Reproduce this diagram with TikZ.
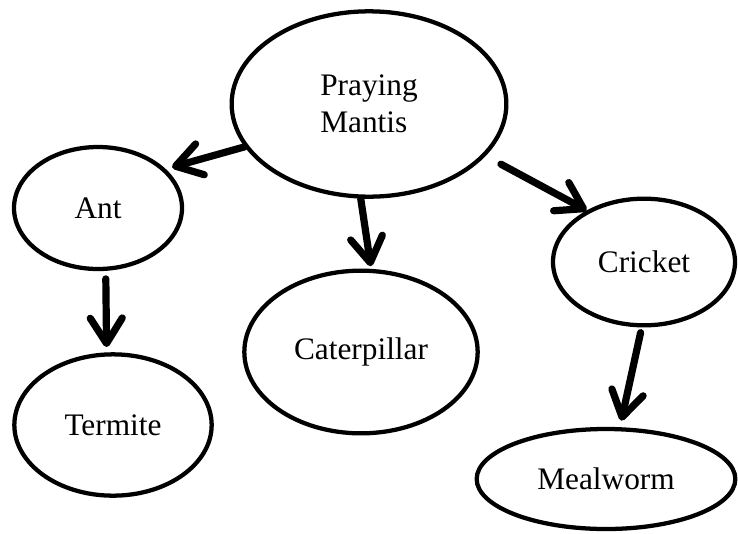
\documentclass[tikz,border=0pt]{standalone}
\usepackage{fontspec}
\setmainfont{Liberation Serif}
\usepackage{tikz}
\usetikzlibrary{arrows.meta, shapes.geometric}
\tikzset{
  fbox/.style={ellipse, draw=black, line width=3.2pt, fill=white, inner sep=0pt, align=left,
    font=\fontsize{23.5}{27.75}\selectfont},
  fflow/.style={-{Straight Barb[length=19pt, width=24pt, round]}, line width=5.4pt, line cap=round, black},
}

\begin{document}
\begin{tikzpicture}[x=0.75pt, y=-0.75pt]
    \useasboundingbox (0,0) rectangle (738,533);
    \node[fbox, minimum width=206pt, minimum height=139pt] (mantis) at (369,104) {Praying\\Mantis};
    \node[fbox, minimum width=126pt, minimum height=91.5pt] (ant) at (98,208) {Ant};
    \node[fbox, minimum width=175pt, minimum height=122pt] (caterpillar) at (361,352) {Caterpillar};
    \node[fbox, minimum width=136.5pt, minimum height=95pt] (cricket) at (644,262) {Cricket};
    \node[fbox, minimum width=148pt, minimum height=106pt] (termite) at (113,425) {Termite};
    \node[fbox, minimum width=194pt, minimum height=75pt] (mealworm) at (606,479) {Mealworm};
    \draw[fflow, shorten >=5pt] (mantis.199) -- (ant.30);
    \draw[fflow, shorten >=2pt] (mantis.265) -- (caterpillar.83);
    \draw[fflow, shorten <=13pt] (mantis.336) -- (cricket.138);
    \draw[fflow, shorten <=6pt, shorten >=4pt] (ant.277) -- (termite.95);
    \draw[fflow, shorten <=4pt, shorten >=5pt] (cricket.268) -- (mealworm.75);
  \end{tikzpicture}
\end{document}
